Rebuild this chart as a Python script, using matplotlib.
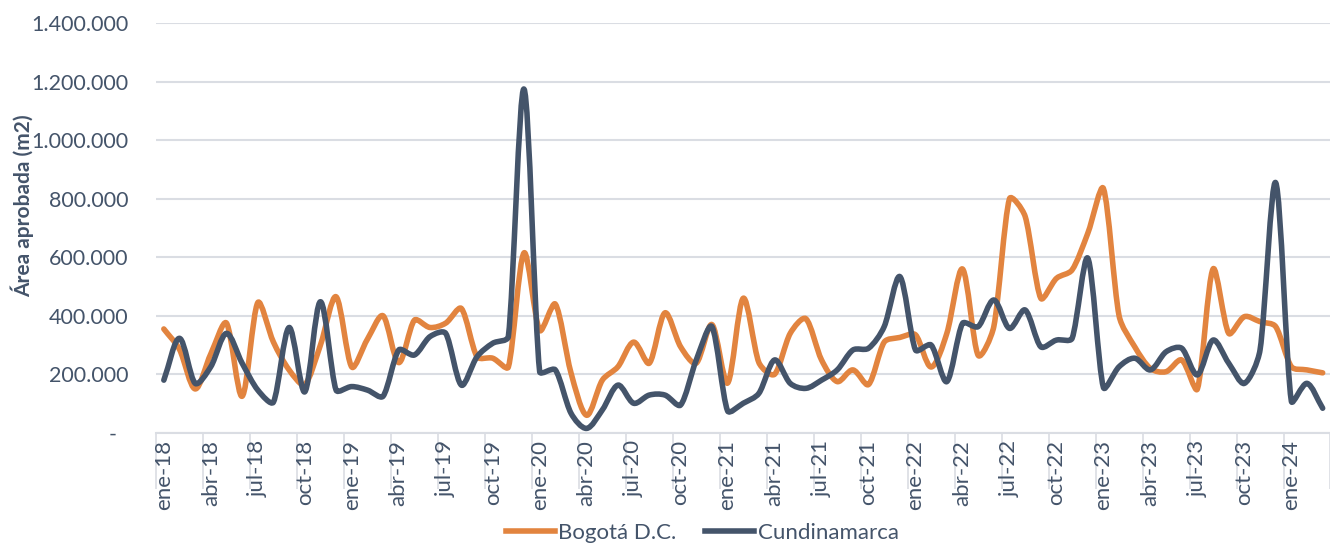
import numpy as np
import matplotlib
matplotlib.use("Agg")
import matplotlib.pyplot as plt
from matplotlib.path import Path
from matplotlib.patches import PathPatch
from matplotlib.lines import Line2D
from matplotlib.ticker import FuncFormatter

plt.rcParams["font.family"] = ["Lato", "DejaVu Sans"]

# meses ene-18 .. mar-24
meses = ["ene", "feb", "mar", "abr", "may", "jun", "jul", "ago", "sep", "oct", "nov", "dic"]
etiquetas = [f"{m}-{a}" for a in range(18, 25) for m in meses][:75]

# área aprobada (miles de m2)
bogota = [355, 285, 150, 270, 375, 125, 445, 310, 215, 165,
          300, 465, 225, 320, 400, 240, 385, 360, 375, 425,
          260, 255, 225, 615, 350, 440, 205, 60, 180, 226,
          310, 238, 410, 294, 238, 370, 170, 460, 240, 200,
          340, 390, 249, 175, 215, 165, 310, 326, 335, 225,
          340, 560, 265, 363, 800, 740, 460, 528, 557, 682,
          835, 400, 294, 220, 209, 249, 150, 560, 340, 397,
          380, 363, 226, 215, 205]
cundinamarca = [180, 323, 169, 226, 340, 238, 146, 105, 360, 140,
                448, 146, 158, 146, 125, 283, 266, 329, 340, 163,
                260, 306, 329, 1175, 209, 215, 67, 15, 78, 163,
                101, 129, 129, 95, 249, 363, 75, 101, 135, 249,
                169, 152, 180, 215, 283, 289, 363, 534, 283, 300,
                175, 374, 363, 454, 357, 420, 294, 317, 323, 597,
                155, 226, 255, 215, 277, 289, 198, 317, 238, 169,
                283, 855, 108, 169, 84]

naranja = "#E2843F"
azul = "#44546A"
gris = "#DADDE3"


def linea_suave(ax, valores, color):
    # curva suavizada tipo Excel: Bezier con tangentes Catmull-Rom,
    # acortadas según la longitud de cada tramo en pantalla
    y = np.array(valores, dtype=float) * 1000
    pts = np.column_stack([np.arange(len(y)), y])
    pix = ax.transData.transform(pts)
    n = len(pts)
    sal = np.zeros_like(pts)
    ent = np.zeros_like(pts)
    for i in range(n):
        a = pts[max(i - 1, 0)]
        b = pts[min(i + 1, n - 1)]
        t = (b - a) / 2 if 0 < i < n - 1 else (b - a)
        la = np.hypot(*(pix[i] - pix[max(i - 1, 0)]))
        lb = np.hypot(*(pix[min(i + 1, n - 1)] - pix[i]))
        tot = la + lb if la + lb > 0 else 1
        sal[i] = t / 3 * min(1, 2 * lb / tot)
        ent[i] = t / 3 * min(1, 2 * la / tot)
    verts = [pts[0]]
    codes = [Path.MOVETO]
    for k in range(n - 1):
        verts += [pts[k] + sal[k], pts[k + 1] - ent[k + 1], pts[k + 1]]
        codes += [Path.CURVE4] * 3
    ax.add_patch(PathPatch(Path(verts, codes), fill=False, edgecolor=color,
                           lw=4, capstyle="round", joinstyle="round"))


fig = plt.figure(figsize=(13.3, 5.44), dpi=100)
ax = fig.add_axes([156 / 1330, 1 - 432.8 / 544, 1174.5 / 1330, (432.8 - 23.3) / 544])

ax.set_xlim(-0.5, 74.5)
ax.set_ylim(0, 1400000)

linea_suave(ax, bogota, naranja)
linea_suave(ax, cundinamarca, azul)

ax.set_yticks(np.arange(0, 1400001, 200000))
ax.yaxis.set_major_formatter(FuncFormatter(
    lambda v, p: "-  " if v == 0 else f"{int(v):,}".replace(",", ".")))
ax.tick_params(axis="y", length=0, pad=20, labelsize=15.5, labelcolor=azul)

ax.set_xticks(np.arange(-0.5, 75, 3))
ax.set_xticks(np.arange(0, 75, 3), minor=True)
ax.set_xticklabels(etiquetas[::3], minor=True)
ax.tick_params(axis="x", which="major", length=40, width=1.2, color=gris, labelbottom=False)
ax.tick_params(axis="x", which="minor", length=0, pad=5, labelrotation=90,
               labelsize=16, labelcolor=azul)

ax.grid(axis="y", color=gris, lw=1.5)
ax.set_axisbelow(True)
for s in ["left", "top", "right"]:
    ax.spines[s].set_visible(False)
ax.spines["bottom"].set_color(gris)
ax.spines["bottom"].set_linewidth(1.5)

ax.set_ylabel("Área aprobada (m2)", fontsize=15, fontweight="bold", color=azul)
ax.yaxis.set_label_coords(-0.104, 0.555)

manijas = [Line2D([], [], color=naranja, lw=4), Line2D([], [], color=azul, lw=4)]
fig.legend(manijas, ["Bogotá D.C.", "Cundinamarca"], loc="lower center",
           bbox_to_anchor=(0.528, -0.035), ncol=2, frameon=False, fontsize=16,
           handlelength=2.2, handletextpad=0.15, columnspacing=1.3, labelcolor=azul)

fig.savefig("out.png", dpi=100)
